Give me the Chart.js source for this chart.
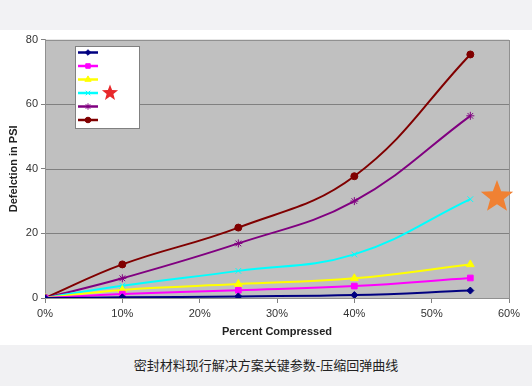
<!DOCTYPE html>
<html>
<head>
<meta charset="utf-8">
<script src="https://cdn.jsdelivr.net/npm/chart.js@4.4.1/dist/chart.umd.min.js"></script>
<style>
  html,body{margin:0;padding:0;width:532px;height:386px;overflow:hidden;background:#f1f1f3;}
  #top{position:absolute;left:0;top:0;width:532px;height:30px;background:#f2f2f4;}
  #wrap{position:absolute;left:0;top:30px;width:532px;height:315px;background:#ffffff;}
  #cap{position:absolute;left:0;top:355px;width:532px;text-align:center;font-family:"Noto Sans CJK SC";font-size:13px;color:#222;}
</style>
</head>
<body>
<div id="top"></div>
<div id="wrap"><canvas id="c" width="532" height="315"></canvas></div>
<div id="cap">密封材料现行解决方案关键参数-压缩回弹曲线</div>
<script>
const compression = [0, 0.10, 0.25, 0.40, 0.55];
const seriesNavy    = [0, 0.2, 0.5, 0.9, 2.3];
const seriesMagenta = [0, 1.2, 2.4, 3.7, 6.2];
const seriesYellow  = [0, 2.5, 4.3, 6.1, 10.4];
const seriesCyan    = [0, 3.8, 8.4, 13.5, 30.6];
const seriesPurple  = [0, 6.1, 16.9, 30.0, 56.4];
const seriesDarkRed = [0, 10.4, 21.8, 37.7, 75.4];
const yTicks = [0, 20, 40, 60, 80];
const xTicks = [0, 0.1, 0.2, 0.3, 0.4, 0.5, 0.6];

const specs = [
  {data: seriesNavy, color:'#000080', style:'rectRot', r:3.5},
  {data: seriesMagenta, color:'#ff00ff', style:'rect', r:4},
  {data: seriesYellow, color:'#ffff00', style:'triangle', r:4.5},
  {data: seriesCyan, color:'#00ffff', style:'crossRot', r:4},
  {data: seriesPurple, color:'#800080', style:'star', r:4},
  {data: seriesDarkRed, color:'#800000', style:'circle', r:3.5}
];

const datasets = specs.map(s => ({
  data: compression.map((x,i)=>({x:x, y:s.data[i]})),
  borderColor: s.color,
  backgroundColor: s.color,
  borderWidth: 2,
  pointStyle: s.style,
  pointRadius: s.r,
  pointBorderWidth: 1,
  tension: 0.4,
  fill: false
}));

function star(ctx, cx, cy, R, color){
  const r = R*0.42;
  ctx.beginPath();
  for(let i=0;i<10;i++){
    const rad = (i%2===0)?R:r;
    const a = -Math.PI/2 + i*Math.PI/5;
    const px = cx + rad*Math.cos(a), py = cy + rad*Math.sin(a);
    if(i===0) ctx.moveTo(px,py); else ctx.lineTo(px,py);
  }
  ctx.closePath();
  ctx.fillStyle = color;
  ctx.fill();
}

const deco = {
  id:'deco',
  beforeDatasetsDraw(chart){
    const {ctx, chartArea:a} = chart;
    ctx.save();
    ctx.fillStyle = '#c0c0c0';
    ctx.fillRect(a.left, a.top, a.right-a.left, a.bottom-a.top);
    const ys = chart.scales.y;
    ctx.strokeStyle = '#808080'; ctx.lineWidth = 1;
    yTicks.forEach(v=>{
      const py = Math.round(ys.getPixelForValue(v))+0.5;
      ctx.beginPath(); ctx.moveTo(a.left, py); ctx.lineTo(a.right, py); ctx.stroke();
    });
    ctx.strokeStyle = '#909090';
    ctx.strokeRect(Math.round(a.left)+0.5, Math.round(a.top)+0.5, Math.round(a.right-a.left), Math.round(a.bottom-a.top));
    ctx.restore();
  },
  afterDraw(chart){
    const ctx = chart.ctx;
    ctx.save();
    ctx.fillStyle = '#ffffff';
    ctx.fillRect(75, 16, 64, 82);
    ctx.strokeStyle = '#808080'; ctx.lineWidth = 1;
    ctx.strokeRect(75.5, 16.5, 64, 82);
    specs.forEach((s,i)=>{
      const y = 22.5 + i*13.5;
      ctx.strokeStyle = s.color; ctx.lineWidth = 2.5;
      ctx.beginPath(); ctx.moveTo(78, y); ctx.lineTo(98, y); ctx.stroke();
      ctx.fillStyle = s.color; ctx.strokeStyle = s.color; ctx.lineWidth = 1;
      Chart.helpers.drawPoint(ctx, {pointStyle:s.style, radius:s.r*0.8, rotation:0, borderWidth:1}, 88, y);
    });
    star(ctx, 110, 63, 8.5, '#e8282b');
    star(ctx, 497, 167, 17, '#f08133');
    ctx.restore();
  }
};

new Chart(document.getElementById('c'), {
  type: 'line',
  data: { datasets },
  plugins: [deco],
  options: {
    responsive: false,
    animation: false,
    layout: { padding: { top: 7, right: 23, left: 0, bottom: 0 } },
    plugins: { legend: { display:false }, tooltip: { enabled:false } },
    scales: {
      x: {
        type: 'linear', min: 0, max: 0.6,
        afterFit(s){ s.height = 47; },
        afterBuildTicks(s){ s.ticks = xTicks.map(v=>({value:v})); },
        ticks: { color:'#333', font:{family:'Liberation Sans', size:11}, padding: 4,
                 callback: v => Math.round(v*100)+'%' },
        grid: { drawOnChartArea:false, tickLength:5, color:'#808080' },
        border: { color:'#808080' },
        title: { display:true, text:'Percent Compressed', color:'#222',
                 font:{family:'Liberation Sans', size:11, weight:'bold'}, padding:{top:2, bottom:6} }
      },
      y: {
        min: 0, max: 80,
        afterFit(s){ s.width = 45; },
        afterBuildTicks(s){ s.ticks = yTicks.map(v=>({value:v})); },
        ticks: { color:'#333', font:{family:'Liberation Sans', size:11}, padding: 3 },
        grid: { drawOnChartArea:false, tickLength:4, color:'#808080' },
        border: { color:'#808080' },
        title: { display:true, text:'Defelction in PSI', color:'#222',
                 font:{family:'Liberation Sans', size:11, weight:'bold'}, padding:{top:7, bottom:0} }
      }
    }
  }
});
</script>
</body>
</html>
